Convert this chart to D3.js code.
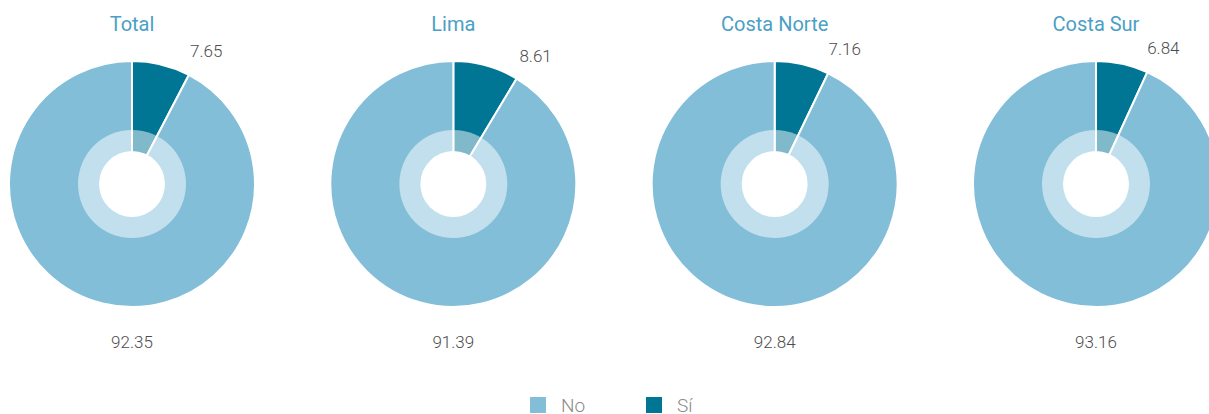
<!DOCTYPE html>
<html>
<head>
<meta charset="utf-8">
<script src="https://cdn.jsdelivr.net/npm/d3@7"></script>
<style>
  body { margin: 0; background: #fff; overflow: hidden; }
  text { font-family: Roboto, "Liberation Sans", Arial, sans-serif; }
</style>
</head>
<body>
<div id="chart"></div>
<script>
// data
var regions = ["Total", "Lima", "Costa Norte", "Costa Sur"];
var siValues = [7.65, 8.61, 7.16, 6.84];
var noValues = [92.35, 91.39, 92.84, 93.16];
var seriesNames = ["No", "Sí"];

var width = 1209, height = 414;
var colors = { "No": "#83bed9", "Sí": "#007594" };

var svg = d3.select("#chart").append("svg")
    .attr("width", width)
    .attr("height", height);

// one column per region
var x = d3.scalePoint()
    .domain(regions)
    .range([132, 1096]);

var cy = 184, radius = 123;

var pie = d3.pie()
    .sort(null)
    .value(function(d) { return d.value; });

var arc = d3.arc().innerRadius(0).outerRadius(radius);

regions.forEach(function(r, i) {
    var data = [
        { key: "Sí", value: siValues[i] },
        { key: "No", value: noValues[i] }
    ];
    var g = svg.append("g")
        .attr("transform", "translate(" + x(r) + "," + cy + ")");

    var arcs = pie(data);
    g.selectAll("path.slice")
        .data(arcs)
        .enter().append("path")
        .attr("class", "slice")
        .attr("d", arc)
        .attr("fill", function(d) { return colors[d.data.key]; })
        .attr("stroke", "#fff")
        .attr("stroke-width", 2);

    // lighter inner ring and hole
    g.append("circle").attr("r", 54).attr("fill", "#fff").attr("fill-opacity", 0.5);
    g.append("circle").attr("r", 33).attr("fill", "#fff");

    // title
    g.append("text")
        .attr("x", 0).attr("y", -153)
        .attr("text-anchor", "middle")
        .attr("fill", "#4aa0c5")
        .style("font-size", "20px")
        .text(r);

    // small slice label near the end of the slice
    var a = arcs[0].endAngle;
    g.append("text")
        .attr("x", 152 * Math.sin(a) + 4)
        .attr("y", -152 * Math.cos(a) + 8)
        .attr("text-anchor", "middle")
        .attr("fill", "#4d4d4d")
        .style("font-size", "17px")
        .style("font-weight", 300)
        .text(siValues[i].toFixed(2));

    // large slice label below the pie
    g.append("text")
        .attr("x", 0).attr("y", radius + 41)
        .attr("text-anchor", "middle")
        .attr("fill", "#4d4d4d")
        .style("font-size", "17px")
        .style("font-weight", 300)
        .text(noValues[i].toFixed(2));
});

// legend
var legend = svg.append("g").attr("transform", "translate(530,397)");
var lx = d3.scalePoint().domain(seriesNames).range([0, 116]);
var item = legend.selectAll("g")
    .data(seriesNames)
    .enter().append("g")
    .attr("transform", function(d) { return "translate(" + lx(d) + ",0)"; });
item.append("rect")
    .attr("width", 16).attr("height", 16)
    .attr("fill", function(d) { return colors[d]; });
item.append("text")
    .attr("x", 31).attr("y", 15)
    .attr("fill", "#8a8a8a")
    .style("font-size", "19px")
    .style("font-weight", 300)
    .text(function(d) { return d; });
</script>
</body>
</html>
